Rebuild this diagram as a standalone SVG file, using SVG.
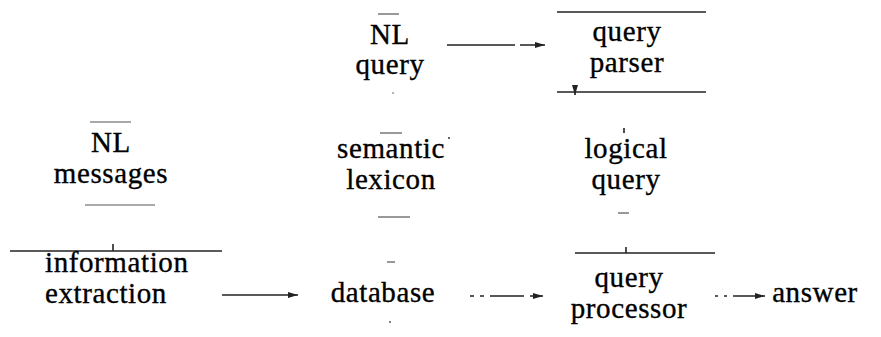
<svg xmlns="http://www.w3.org/2000/svg" width="881" height="337" viewBox="0 0 881 337">
<defs>
<style>
text{font-family:"Liberation Serif","Times New Roman",serif;font-size:29px;letter-spacing:0.6px;fill:#000;stroke:#000;stroke-width:0.35;text-anchor:middle}
.ln{stroke:#222;stroke-width:1.6;fill:none}
.fd{stroke:#555;stroke-width:1.2;fill:none}
.ds{stroke:#222;stroke-width:1.6;fill:none}
</style>
<marker id="ah" viewBox="0 0 10 6" refX="10" refY="3" markerWidth="10" markerHeight="6" orient="auto" markerUnits="userSpaceOnUse">
<path d="M0,0 L10,3 L0,6 z" fill="#222"/>
</marker>
</defs>
<rect width="881" height="337" fill="#fff"/>
<g id="nl-query">
<line class="fd" x1="378" y1="14" x2="399" y2="14"/>
<text x="390" y="44">NL</text>
<text x="390" y="74">query</text>
<circle cx="393" cy="93" r="0.8" fill="#555"/>
</g>
<g id="query-parser">
<line class="ln" x1="557" y1="12" x2="706" y2="12"/>
<text x="627" y="41">query</text>
<text x="627" y="72">parser</text>
<line class="ln" x1="557" y1="92" x2="706" y2="92"/>
</g>
<g id="nl-messages">
<line class="fd" x1="90" y1="122" x2="131" y2="122"/>
<text x="111" y="152">NL</text>
<text x="111" y="183">messages</text>
<line class="fd" x1="85" y1="205" x2="155" y2="205"/>
</g>
<g id="semantic-lexicon">
<line class="fd" x1="380" y1="133" x2="402" y2="133"/>
<circle cx="449" cy="138" r="1" fill="#333"/>
<text x="391" y="158">semantic</text>
<text x="391" y="189">lexicon</text>
<line class="fd" x1="378" y1="217" x2="410" y2="217"/>
</g>
<g id="logical-query">
<text x="626" y="158">logical</text>
<text x="626" y="189">query</text>
<line class="fd" x1="618" y1="213" x2="629" y2="213"/>
</g>
<g id="information-extraction">
<line class="ln" x1="10" y1="251" x2="222" y2="251"/>
<text x="45" y="272" style="text-anchor:start">information</text>
<text x="45" y="303" style="text-anchor:start">extraction</text>
</g>
<g id="database">
<line class="fd" x1="387" y1="262" x2="395" y2="262"/>
<text x="383" y="302">database</text>
<circle cx="390" cy="322" r="0.9" fill="#444"/>
</g>
<g id="query-processor">
<line class="ln" x1="575" y1="253" x2="715" y2="253"/>
<text x="629" y="287">query</text>
<text x="629" y="318">processor</text>
</g>
<g id="answer">
<text x="815" y="302">answer</text>
</g>
<g id="connectors">
<line class="ds" x1="447" y1="45" x2="545" y2="45" style="stroke-dasharray:68 5 40 0" marker-end="url(#ah)"/>
<path class="ln" d="M575,92 l0,3" marker-end="url(#ah)"/>
<path class="ln" d="M624,128 l0,5"/>
<path class="ln" d="M113,244 l0,7"/>
<path class="ln" d="M626,247 l0,6"/>
<line class="ln" x1="222" y1="295" x2="298" y2="295" marker-end="url(#ah)"/>
<line class="ds" x1="470" y1="296" x2="543" y2="296" style="stroke-dasharray:4 6 4 6 30 0" marker-end="url(#ah)"/>
<line class="ds" x1="715" y1="296" x2="765" y2="296" style="stroke-dasharray:3 6 3 6 30 0" marker-end="url(#ah)"/>
</g>
</svg>
